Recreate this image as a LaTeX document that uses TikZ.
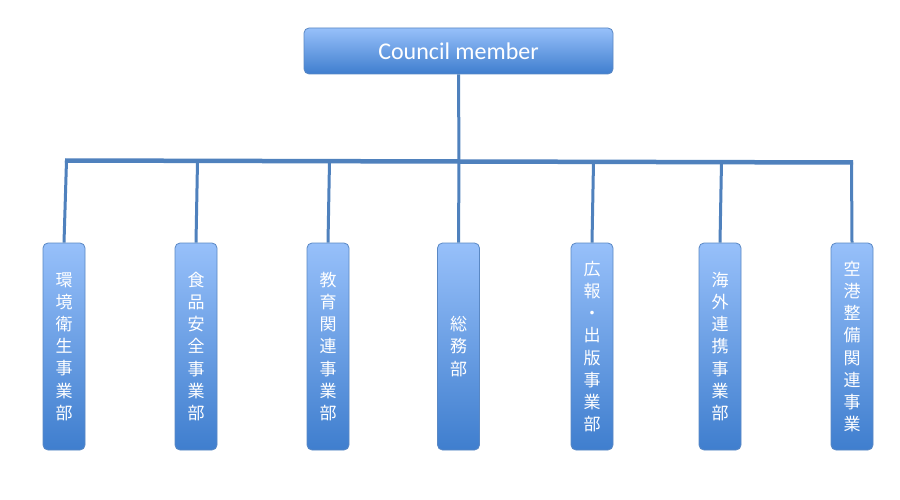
\documentclass[tikz,border=0pt]{standalone}
\usepackage{fontspec}
\setmainfont{Carlito}
\newfontfamily\cjk{Noto Sans CJK JP}
\definecolor{boxtop}{HTML}{97C0FA}
\definecolor{boxbot}{HTML}{3F7ECE}
\definecolor{boxline}{HTML}{5A88C4}
\definecolor{conn}{HTML}{4F81BD}
\tikzset{
  obox/.style={draw=boxline, line width=0.8pt, rounded corners=5pt, top color=boxtop, bottom color=boxbot, text=white, inner sep=0pt},
  topbox/.style={obox, minimum width=309pt, minimum height=46pt, font=\fontsize{24}{28}\selectfont},
  vbox/.style={obox, minimum width=42pt, minimum height=207pt, align=center, font={\cjk\fontsize{17}{22.2}\selectfont}},
  conline/.style={draw=conn, line width=3pt},
  barline/.style={draw=conn, line width=4.5pt}
}
\begin{document}
\begin{tikzpicture}[x=1pt,y=-1pt]
\useasboundingbox[fill=white] (0,0) rectangle (900,500);
\node[topbox] (t) at (458.5,51) {Council member};
\node[vbox] (b1) at (64,346.5) {環\\境\\衛\\生\\事\\業\\部};
\node[vbox] (b2) at (196,346.5) {食\\品\\安\\全\\事\\業\\部};
\node[vbox] (b3) at (328,346.5) {教\\育\\関\\連\\事\\業\\部};
\node[vbox] (b4) at (458.5,346.5) {総\\務\\部};
\node[vbox] (b5) at (592,346.5) {広\\報\\・\\出\\版\\事\\業\\部};
\node[vbox] (b6) at (720,346.5) {海\\外\\連\\携\\事\\業\\部};
\node[vbox] (b7) at (852,346.5) {空\\港\\整\\備\\関\\連\\事\\業};
\coordinate (barL) at (65,160.5);
\coordinate (barR) at (853,162.5);
\coordinate (j0) at (459,161.5);
\coordinate (j1) at (66.5,160.5);
\coordinate (j2) at (197.5,161);
\coordinate (j3) at (329.5,161);
\coordinate (j4) at (459,161.5);
\coordinate (j5) at (593.5,162);
\coordinate (j6) at (721.5,162);
\coordinate (j7) at (851.5,162.5);
\draw[conline] (t.south) -- (j0);
\foreach \i in {1,...,7} {\draw[conline] (j\i) -- (b\i.north);}
\draw[barline] (barL) -- (barR);
\end{tikzpicture}
\end{document}
